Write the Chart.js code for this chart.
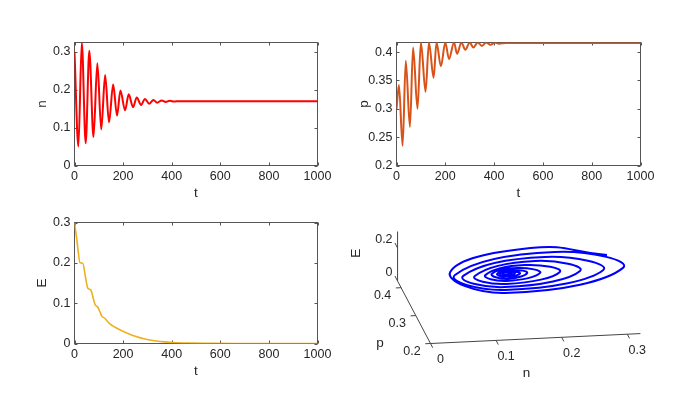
<!DOCTYPE html>
<html>
<head>
<meta charset="utf-8">
<script src="https://cdn.jsdelivr.net/npm/chart.js@4.4.1/dist/chart.umd.min.js"></script>
<style>
  body { margin: 0; background: #fff; }
  #wrap { position: relative; width: 698px; height: 393px; }
  canvas { position: absolute; left: 0; top: 0; }
</style>
</head>
<body>
<div id="wrap">
  <canvas id="nChart" width="698" height="393"></canvas>
  <canvas id="pChart" width="698" height="393"></canvas>
  <canvas id="eChart" width="698" height="393"></canvas>
  <canvas id="orbitChart" width="698" height="393"></canvas>
</div>
<script>
// === Data ===
const tTicks = [0, 200, 400, 600, 800, 1000];

// n(t): start, then troughs / peaks of the damped oscillation
const tN = [0, 16, 30, 46, 61, 78, 94, 110, 126, 142, 159, 175, 189, 208, 223, 241, 256, 274, 290, 307, 325, 340, 359, 375, 392, 410, 430, 460, 500, 600, 800, 1000];
const nVals = [0.300, 0.050, 0.325, 0.059, 0.303, 0.075, 0.270, 0.095, 0.239, 0.114, 0.214, 0.132, 0.198, 0.146, 0.188, 0.154, 0.180, 0.160, 0.176, 0.163, 0.173, 0.166, 0.172, 0.168, 0.171, 0.169, 0.170, 0.170, 0.170, 0.170, 0.170, 0.170];
const nTicks = [0, 0.1, 0.2, 0.3];

// p(t)
const tP = [0, 10, 25, 38, 55, 68, 86, 100, 119, 133, 152, 164, 182, 200, 215, 236, 248, 266, 282, 300, 315, 333, 350, 368, 385, 403, 420, 450, 500, 600, 1000];
const pVals = [0.300, 0.342, 0.235, 0.385, 0.268, 0.408, 0.300, 0.417, 0.330, 0.417, 0.355, 0.417, 0.375, 0.417, 0.388, 0.417, 0.397, 0.417, 0.404, 0.417, 0.408, 0.417, 0.411, 0.417, 0.413, 0.417, 0.415, 0.416, 0.416, 0.416, 0.416];
const pTicks = [0.2, 0.25, 0.3, 0.35, 0.4];

// E(t)
const tE = [0, 10, 23, 34, 45, 55, 67, 78, 85, 96, 105, 112, 126, 135, 147, 165, 190, 220, 250, 290, 330, 370, 420, 480, 550, 650, 800, 1000];
const eVals = [0.300, 0.255, 0.200, 0.199, 0.165, 0.137, 0.133, 0.110, 0.096, 0.090, 0.078, 0.068, 0.062, 0.055, 0.048, 0.041, 0.033, 0.025, 0.018, 0.011, 0.007, 0.004, 0.002, 0.001, 0.0005, 0, 0, 0];
const eTicks = [0, 0.1, 0.2, 0.3];

// phase portrait (n, p, E): start, then left / bottom / right / top of each turn
const orbitN = [0.293, 0.191, 0.057, 0.125, 0.321, 0.236, 0.072, 0.136, 0.299, 0.225, 0.090, 0.144, 0.269, 0.211, 0.111, 0.152, 0.242, 0.196, 0.130, 0.157, 0.214, 0.185, 0.142, 0.161, 0.196, 0.176, 0.151, 0.164, 0.186, 0.173, 0.156, 0.165, 0.179, 0.170, 0.161, 0.167, 0.175, 0.170, 0.169];
const orbitP = [0.307, 0.373, 0.320, 0.249, 0.323, 0.407, 0.355, 0.300, 0.359, 0.426, 0.379, 0.336, 0.383, 0.431, 0.394, 0.364, 0.400, 0.433, 0.407, 0.385, 0.409, 0.432, 0.417, 0.398, 0.417, 0.431, 0.421, 0.410, 0.421, 0.431, 0.425, 0.417, 0.425, 0.430, 0.427, 0.423, 0.428, 0.431, 0.432];
const orbitE = [0.300, 0.250, 0.220, 0.200, 0.190, 0.160, 0.140, 0.130, 0.120, 0.100, 0.090, 0.085, 0.080, 0.070, 0.060, 0.055, 0.050, 0.045, 0.040, 0.037, 0.034, 0.031, 0.028, 0.026, 0.024, 0.022, 0.020, 0.018, 0.016, 0.014, 0.012, 0.011, 0.010, 0.009, 0.008, 0.007, 0.006, 0.005, 0];
const orbitNRange = [0, 0.32];
const orbitPRange = [0.2, 0.424];
const orbitERange = [0, 0.3];
const orbitNTicks = [0, 0.1, 0.2, 0.3];
const orbitPTicks = [0.2, 0.3, 0.4];
const orbitETicks = [0, 0.2];

// === Look ===
const FONT = '"Liberation Sans", Arial, Helvetica, sans-serif';
const TEXT = '#262626';
Chart.defaults.font.family = FONT;
Chart.defaults.font.size = 12.5;
Chart.defaults.color = TEXT;

// matlab style box with inward ticks
const boxPlugin = {
  id: 'box',
  beforeDatasetsDraw(chart) {
    const { ctx, chartArea: a, scales: { x, y } } = chart;
    ctx.save();
    ctx.strokeStyle = '#555';
    ctx.lineWidth = 1;
    ctx.strokeRect(a.left, a.top, a.right - a.left, a.bottom - a.top);
    ctx.beginPath();
    x.ticks.forEach(tk => {
      const px = Math.round(x.getPixelForValue(tk.value)) + 0.5;
      ctx.moveTo(px, a.bottom); ctx.lineTo(px, a.bottom - 3);
      ctx.moveTo(px, a.top); ctx.lineTo(px, a.top + 3);
    });
    y.ticks.forEach(tk => {
      const py = Math.round(y.getPixelForValue(tk.value)) + 0.5;
      ctx.moveTo(a.left, py); ctx.lineTo(a.left + 3, py);
      ctx.moveTo(a.right, py); ctx.lineTo(a.right - 3, py);
    });
    ctx.stroke();
    ctx.restore();
  }
};

function timeChart(id, times, values, color, lineWidth, yTicks, yMax, yLabel, pad) {
  return new Chart(document.getElementById(id), {
    type: 'line',
    data: {
      datasets: [{
        data: times.map((t, i) => ({ x: t, y: values[i] })),
        borderColor: color,
        borderWidth: lineWidth,
        pointRadius: 0,
        cubicInterpolationMode: 'monotone',
        fill: false
      }]
    },
    options: {
      responsive: false,
      animation: false,
      devicePixelRatio: 1,
      layout: { padding: pad },
      plugins: { legend: { display: false }, tooltip: { enabled: false } },
      scales: {
        x: {
          type: 'linear', min: 0, max: 1000,
          grid: { display: false, drawTicks: false }, border: { display: false },
          afterBuildTicks: ax => { ax.ticks = tTicks.map(v => ({ value: v })); },
          afterFit: ax => { ax.height = 36; },
          ticks: { padding: 4, autoSkip: false, maxRotation: 0, callback: v => String(v) },
          title: { display: true, text: 't', font: { size: 13.5 }, padding: 0 }
        },
        y: {
          type: 'linear', min: yTicks[0], max: yMax,
          grid: { display: false, drawTicks: false }, border: { display: false },
          afterBuildTicks: ax => { ax.ticks = yTicks.map(v => ({ value: v })); },
          afterFit: ax => { ax.width = 40; },
          ticks: { padding: 4, autoSkip: false, callback: v => String(v) },
          title: { display: true, text: yLabel, font: { size: 13.5 }, padding: 0 }
        }
      }
    },
    plugins: [boxPlugin]
  });
}

timeChart('nChart', tN, nVals, '#ff0000', 2, nTicks, 0.325, 'n',
  { left: 34.5, right: 380.5, top: 42.5, bottom: 191.5 });
timeChart('pChart', tP, pVals, '#d95319', 2, pTicks, 0.417, 'p',
  { left: 356.5, right: 57.5, top: 42.5, bottom: 191.5 });
timeChart('eChart', tE, eVals, '#edb120', 1.6, eTicks, 0.3, 'E',
  { left: 34.5, right: 380.5, top: 222.5, bottom: 13.5 });

// === 3D view: simple fixed projection of (n, p, E) onto the page ===
const view = { ox: 430.5, oy: 343.5, nx: 656, ny: -31, px: -147, py: -279, ey: -165 };
function proj(n, p, e) {
  const dp = p - orbitPRange[0];
  return {
    x: view.ox + view.nx * n + view.px * dp,
    y: view.oy + view.ny * n + view.py * dp + view.ey * e
  };
}

const orbitAxes = {
  id: 'orbitAxes',
  beforeDatasetsDraw(chart) {
    const { ctx, scales: { x, y } } = chart;
    const at = (n, p, e) => {
      const q = proj(n, p, e);
      return [x.getPixelForValue(q.x), y.getPixelForValue(q.y)];
    };
    const seg = (a, b) => { ctx.moveTo(a[0], a[1]); ctx.lineTo(b[0], b[1]); };
    const p0 = orbitPRange[0], p1 = orbitPRange[1];
    ctx.save();
    ctx.strokeStyle = '#444';
    ctx.lineWidth = 1;
    ctx.beginPath();
    seg(at(orbitNRange[0], p0, 0), at(orbitNRange[1], p0, 0));
    seg(at(0, p0, 0), at(0, p1, 0));
    seg(at(0, p1, orbitERange[0]), at(0, p1, orbitERange[1]));
    orbitNTicks.forEach(v => seg(at(v, p0, 0), at(v, p0 - 0.015, 0)));
    orbitPTicks.forEach(v => seg(at(0, v, 0), at(-0.008, v, 0)));
    orbitETicks.forEach(v => seg(at(0, p1, v), at(0, p1 + 0.018, v)));
    ctx.stroke();

    ctx.fillStyle = TEXT;
    ctx.font = '12.5px ' + FONT;
    ctx.textAlign = 'center';
    ctx.textBaseline = 'middle';
    orbitNTicks.forEach(v => { const a = at(v, p0, 0); ctx.fillText(String(v), a[0] + 10, a[1] + 16); });
    orbitPTicks.forEach(v => { const a = at(0, v, 0); ctx.fillText(String(v), a[0] - 18.5, a[1] + 8); });
    ctx.textAlign = 'right';
    orbitETicks.forEach(v => { const a = at(0, p1, v); ctx.fillText(String(v), a[0] - 5, a[1] - 8); });

    ctx.font = '13.5px ' + FONT;
    ctx.textAlign = 'center';
    let a = at(0.16, p0, 0);
    ctx.fillText('n', a[0] - 9, a[1] + 35);
    a = at(0, 0.312, 0);
    ctx.fillText('p', a[0] - 34, a[1] + 31);
    a = at(0, p1, 0.15);
    ctx.translate(a[0] - 41, a[1] - 3);
    ctx.rotate(-Math.PI / 2);
    ctx.fillText('E', 0, 0);
    ctx.restore();
  }
};

new Chart(document.getElementById('orbitChart'), {
  type: 'scatter',
  data: {
    datasets: [{
      data: orbitN.map((n, i) => proj(n, orbitP[i], orbitE[i])),
      showLine: true,
      borderColor: '#0000ff',
      borderWidth: 2,
      pointRadius: 0,
      tension: 0.5,
      fill: false
    }]
  },
  options: {
    responsive: false,
    animation: false,
    devicePixelRatio: 1,
    layout: { padding: 0 },
    plugins: { legend: { display: false }, tooltip: { enabled: false } },
    scales: {
      x: { type: 'linear', display: false, min: 0, max: 698 },
      y: { type: 'linear', display: false, min: 0, max: 393, reverse: true }
    }
  },
  plugins: [orbitAxes]
});
</script>
</body>
</html>
